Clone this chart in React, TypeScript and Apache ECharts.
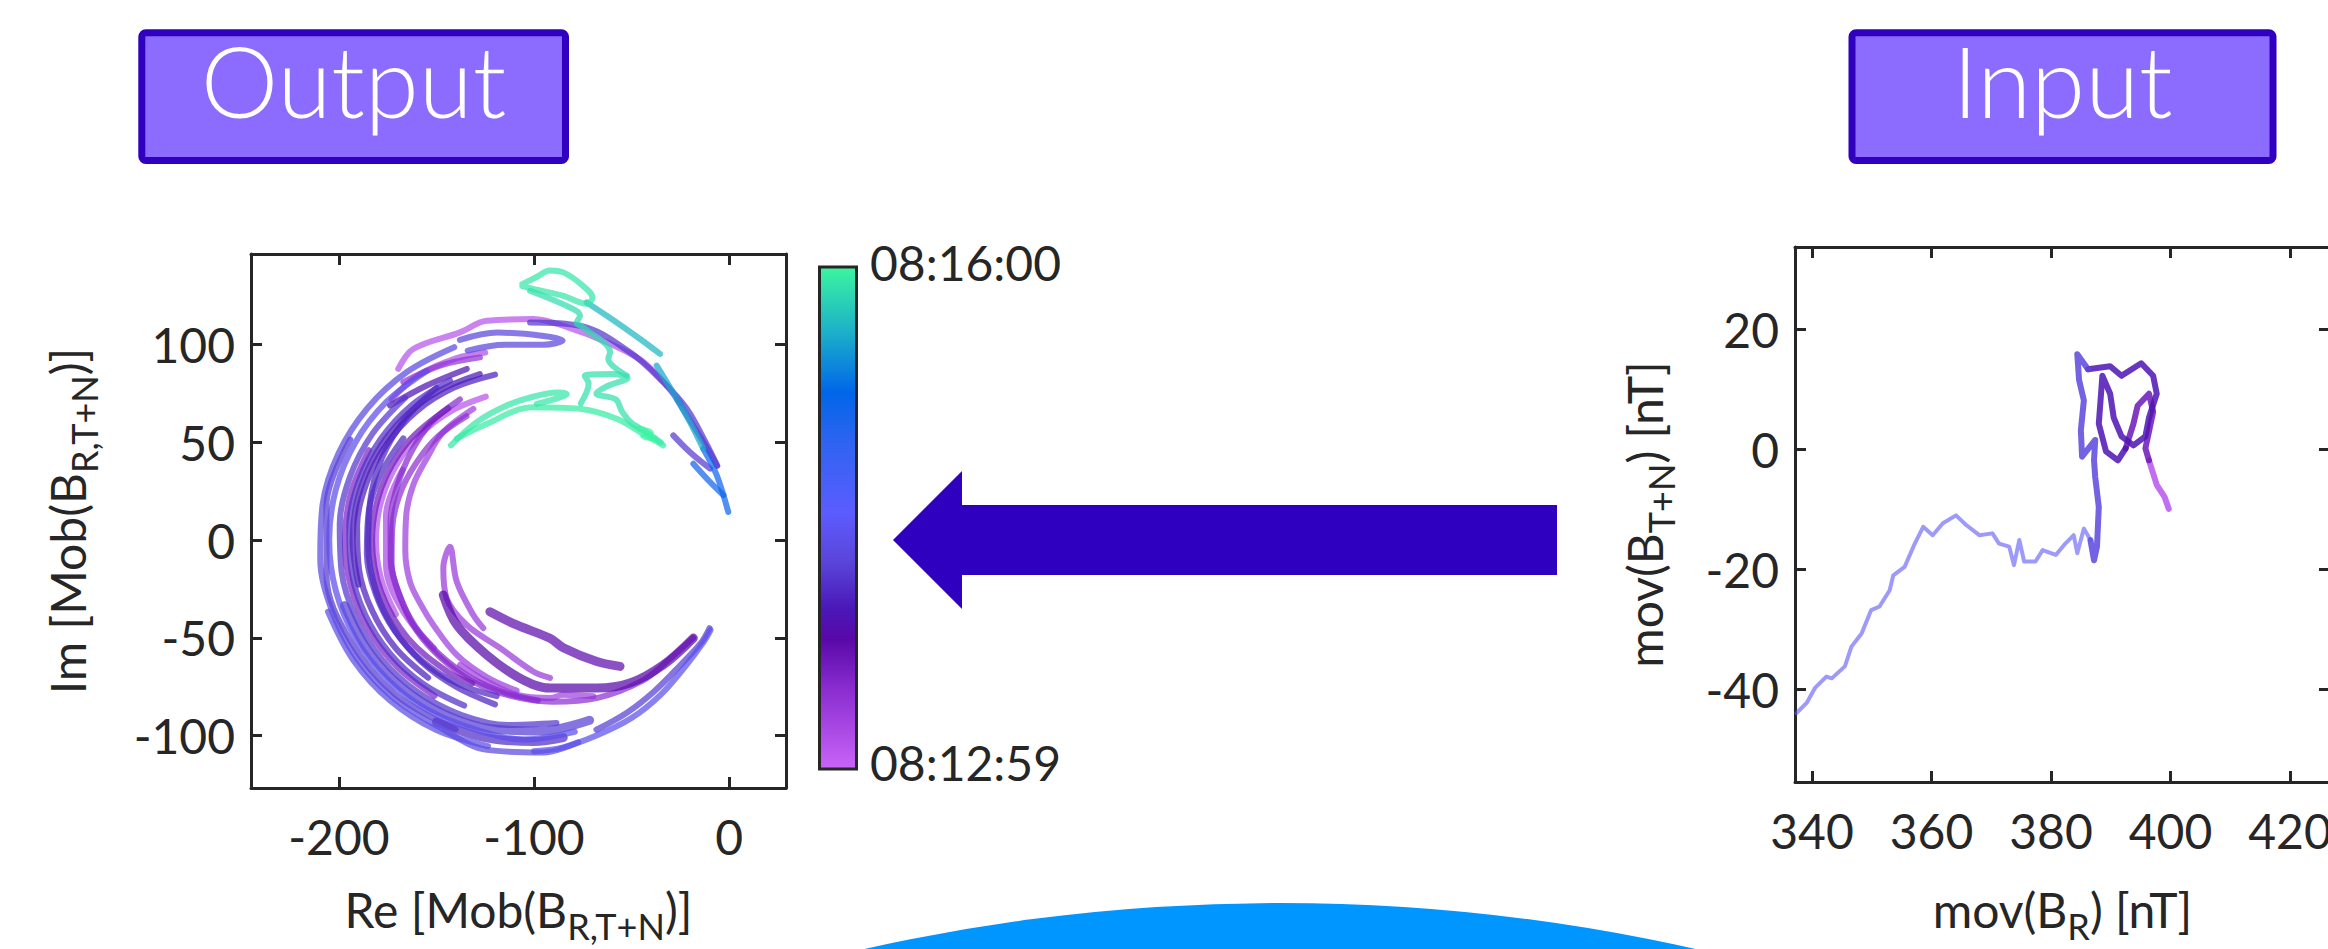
import React, { useEffect, useRef } from 'react';
import * as echarts from 'echarts';

// ---------- time scale (seconds after 08:12:59) ----------
const timeRange = [0, 181];
const colorbarLabels = ['08:16:00', '08:12:59'];

// ---------- axes ----------
const leftXRange = [-245.1, 29.2];
const leftYRange = [-126.8, 146.4];
const rightXRange = [337.15, 426.7];
const rightYRange = [-55.5, 33.8];
const leftXTicks = [-200, -100, 0];
const leftYTicks = [-100, -50, 0, 50, 100];
const rightXTicks = [340, 360, 380, 400, 420];
const rightYTicks = [-40, -20, 0, 20];

// ---------- left panel: Mob(B) trajectory strokes (Re, Im) ----------
const outerArcA = [[-140.9,98.7],[-165.2,86],[-185.4,67.5],[-200.2,44.4],[-208.4,18.2],[-209.6,-9.2],[-203.7,-35.9],[-191,-60.2],[-172.5,-80.4],[-149.4,-95.2],[-124,-107.3],[-95.5,-108.6],[-77.3,-103.4]];
const outerArcB = [[-155,86.6],[-175.7,70.7],[-191.6,50],[-201.6,25.9],[-205,0],[-201.6,-25.9],[-191.6,-50],[-175.7,-70.7],[-155,-86.6],[-130.9,-96.6],[-105,-102],[-79.1,-98]];
const outerArcC = [[-100,-108],[-85,-106],[-68,-100],[-50,-91],[-35,-79],[-22,-64],[-13,-52],[-9.5,-46]];
const outerArcD = [[-68,-97],[-52,-88],[-38,-77],[-25,-64],[-14,-52],[-10,-45]];
const outerArcE = [[-205.6,-36.6],[-192.6,-61.4],[-173.8,-82],[-150.3,-97],[-123.6,-105.4]];
const bottomBand = [[-150,-93],[-125,-101],[-100,-103],[-85,-101]];
const midArcA = [[-166.1,72.8],[-182.8,54.5],[-194.3,32.5],[-199.6,8.3],[-198.6,-16.5],[-191.1,-40.1],[-177.8,-61.1],[-159.5,-77.8],[-137.5,-89.3],[-113.3,-94.6],[-88.5,-93.6]];
const midArcB = [[-143,81.6],[-162.9,68.9],[-178.7,51.6],[-189.6,30.8],[-194.7,7.8],[-193.6,-15.6],[-186.6,-38],[-173.9,-57.9],[-156.6,-73.7],[-135.8,-84.6]];
const midArcC = [[-197.1,-33.5],[-185.3,-56.2],[-168,-75.1],[-146.4,-88.8],[-122,-96.5],[-96.5,-97.6],[-71.5,-92.1]];
const midArcD = [[-120,84.7],[-141.3,77.9],[-160.3,65.9],[-175.4,49.3],[-185.8,29.4],[-190.7,7.5],[-189.7,-14.9],[-182.9,-36.3],[-170.9,-55.3],[-154.3,-70.4]];
const midArcE = [[-167,52.1],[-178.4,34.2],[-184.8,14.1],[-185.7,-7.1],[-181.1,-27.7],[-171.4,-46.5],[-157.1,-62],[-139.2,-73.4],[-119.1,-79.8]];
const midArcF = [[-194.2,51.5],[-206.4,17.9],[-206.4,-17.9],[-194.2,-51.5],[-171.2,-78.9],[-140.2,-96.8]];
const midArcG = [[-127.8,85],[-149,76.2],[-167.2,62.2],[-181.2,44],[-190,22.8],[-193,0],[-190,-22.8]];
const innerArcA = [[-131.1,67.2],[-146.5,55.3],[-155,41.8],[-162,28],[-165.5,12.8],[-166,-5],[-163.6,-21.3],[-158,-33],[-151.6,-43.4],[-139.6,-58.7],[-124.3,-70],[-108.9,-77]];
const innerArcB = [[-138,72],[-153,60],[-163,45],[-170,28],[-173.5,10],[-173.5,-10],[-169,-28],[-161,-44],[-149,-58],[-133,-70],[-115,-78],[-98,-82]];
const innerArcC = [[-150,78],[-166,62],[-178,42],[-184,20],[-185,-3],[-181,-26],[-172,-45],[-158,-62],[-140,-75],[-120,-84]];
const innerArcD = [[-124.7,73.4],[-143,65.8],[-158.7,53.7],[-170.8,38],[-178.4,19.7],[-181,0],[-178.4,-19.7],[-170.8,-38]];
const innerArcE = [[-134.6,63.4],[-149.4,52.9],[-160.7,39],[-168.9,23.3],[-172.7,5.9],[-173,-12],[-168.4,-29.6],[-160.2,-46.3],[-147.4,-60.6],[-131.3,-72.4],[-112,-79.7],[-90.4,-82.7],[-67.4,-80.7],[-44.6,-72],[-31.5,-61.7],[-18.4,-50]];
const innerArcF = [[-184.7,46],[-193.9,23.8],[-197,0],[-193.9,-23.8],[-184.7,-46],[-170,-65],[-151,-79.7]];
const innerArcG = [[-144,67.5],[-164.7,50.1],[-178.3,26.7],[-183,0],[-178.3,-26.7],[-164.7,-50.1],[-144,-67.5],[-131.7,-73.3]];
const innerArcH = [[-167.4,36],[-175.9,12.5],[-175.9,-12.5],[-167.4,-36],[-151.3,-55.2]];
const lowBandA = [[-146.5,-28.1],[-139.6,-43.4],[-124.3,-58.7],[-107.2,-70.6],[-91.8,-75.7],[-67.8,-75.7],[-50.8,-73.1],[-33.7,-63.8],[-18.3,-50.1]];
const lowBandB = [[-122.6,-36.6],[-108.9,-43.4],[-91.8,-50.2],[-85,-55],[-67.8,-62.1],[-55.9,-64.6]];
const lowBandC = [[-137.9,-63.8],[-124.3,-72.3],[-108.9,-79.1],[-91.8,-80.8],[-85,-79.1],[-69.6,-79.9]];
const lowLoop = [[-126,-45],[-131.1,-38.3],[-139.6,-21.3],[-143.1,-3.4],[-146.5,-14.3],[-144.8,-29.7],[-134.5,-43.4],[-117.4,-55.2],[-100.4,-67.2],[-91.8,-70.5]];
const topBandA = [[-169.6,87.6],[-161.9,97.8],[-138,106.3],[-124.3,112.2],[-100.4,113.1],[-83,109],[-62,101],[-45,92],[-33.7,81],[-25,70]];
const topLoop = [[-138,102.5],[-118.6,106.2],[-95,104.5],[-85.3,102.1],[-95,100],[-115,100],[-134,97]];
const topBandB = [[-102,111.4],[-76.4,109.7],[-50.8,96.1],[-33.7,80.8],[-21.7,67.2],[-12,50],[-6,38]];
const topShortA = [[-167,80.8],[-148.2,89.3],[-127.7,93.5]];
const topShortB = [[-173.8,68.9],[-155,79.1],[-134.5,87.6]];
const topShortC = [[-173,72],[-160,84],[-140,93],[-125,96]];
const tipA = [[-26.8,72.3],[-18,58],[-10,45],[-6.3,38.3]];
const tipB = [[-28.6,53.6],[-20,45],[-9.7,36.6]];
const tipC = [[-18.3,39.1],[-10,30],[-2.9,23]];
const greenLoop = [[-106,131],[-98,135],[-92,138],[-85,137],[-76,131],[-70,124],[-73,121],[-85,125],[-98,128],[-106,130]];
const greenA = [[-102,127.6],[-79.8,118.2],[-76.4,114.8],[-78.1,111.4],[-74.7,108.8],[-61,96.1],[-61.9,92.7],[-52.5,84.2]];
const tealA = [[-73,121.6],[-57.6,111.4],[-45.6,102.9],[-35.4,95.3]];
const tealB = [[-37.1,89.3],[-26.8,72.3],[-20,60.4],[-13.2,46.8]];
const blueTip = [[-13.2,46.8],[-6.3,33.2],[-0.4,14.4]];
const mintA = [[-142.6,48.5],[-129.4,60.4],[-114,68.9],[-100,73.5],[-88,75.5],[-83.2,74.8],[-90,72],[-98.6,69.7]];
const mintB = [[-139.6,51.9],[-126,58.7],[-100.4,68],[-76.4,67.2],[-57.6,62.1],[-45.6,55.3],[-33.7,48.5]];
const mintSquiggle = [[-76,70],[-72,80],[-74,84],[-60,85],[-52,83],[-62,79],[-68,75],[-58,72],[-55,66],[-50,60],[-42,55],[-35,50]];
const mintBlob = [[-46,57],[-40,55],[-44,53],[-38,52]];

const leftPaths = [outerArcA, outerArcB, outerArcC, outerArcD, outerArcE, bottomBand,
  midArcA, midArcB, midArcC, midArcD, midArcE, midArcF, midArcG,
  innerArcA, innerArcB, innerArcC, innerArcD, innerArcE, innerArcF, innerArcG, innerArcH,
  lowBandA, lowBandB, lowBandC, lowLoop,
  topBandA, topLoop, topBandB, topShortA, topShortB, topShortC, tipA, tipB, tipC,
  greenLoop, greenA, tealA, tealB, blueTip, mintA, mintB, mintSquiggle, mintBlob];
const leftTimes = [78, 82, 84, 72, 80, 66,
  69, 66, 72, 60, 64, 70, 58,
  20, 30, 62, 9, 27, 33, 38, 14,
  47, 45, 18, 22,
  9, 76, 69, 25, 55, 12, 72, 70, 128,
  176, 172, 160, 155, 130, 176, 178, 174, 181];
// strokes drawn with the thick, dense texture of the reference
const leftThick = [lowBandA, lowBandB, bottomBand, midArcC];

// ---------- right panel: mov(B_R), mov(B_T+N) ----------
const rightPathA = [[337.4,-44],[339.1,-42.3],[340.5,-39.8],[342.4,-37.9],[343.3,-38.2],[345.5,-36.2],[346.6,-32.9],[348.3,-30.7],[349.9,-26.8],[351.3,-26.2],[353,-23.5],[353.6,-21],[355.5,-19.6],[357.2,-15.7],[358.6,-12.9],[360.2,-14.3],[361.9,-12.3],[364.1,-11],[365.8,-12.6],[368,-14.3],[370.2,-14],[371.3,-15.7],[373,-16.2],[373.8,-19.3],[374.7,-15.1],[375.5,-18.7],[377.4,-18.7],[378.6,-16.8],[380.8,-17.6],[382.4,-15.7],[383.8,-14.3],[384.4,-17.3],[385.5,-13.2],[386.6,-15.1]];
const rightPathB = [[386.6,-15.1],[387.2,-18.5],[387.7,-16.2],[388,-9.6],[387.4,-4.6],[387.2,-1.8],[387.4,1.6],[385.2,-1.2],[385,3.2],[385.5,8.2],[384.7,11.6],[384.4,15.9],[386.2,13.4]];
const rightPathC = [[386.2,13.4],[389.9,13.9],[391.8,12.3],[395.1,14.4],[397.1,12.3],[397.7,9.3],[396.4,5.3],[395.8,2.2],[393.8,0.7],[391.8,2.2],[390.5,5.3],[389.9,9.3],[388.6,12.3],[388,4.3],[389.2,-0.3],[391.2,-1.8],[392.5,0.2]];
const rightPathD = [[392.5,0.2],[393.8,4.3],[394.5,7.3],[396.4,9.3],[397.1,6.3],[395.8,0.2],[396.4,-1.8]];
const rightPathE = [[396.4,-1.8],[397.7,-5.9],[399,-7.9],[399.7,-9.9]];
const rightPaths = [rightPathA, rightPathB, rightPathC, rightPathD, rightPathE];
const rightTimes = [88, 76, 55, 40, 8];

// ---------- colour map (bottom → top of colour bar) ----------
const cmapStops: [number, string][] = [
  [0, '#C864F8'], [0.16, '#8A2CD0'], [0.26, '#5808A8'], [0.32, '#4A18B8'], [0.41, '#5A44D8'],
  [0.51, '#5C5CFF'], [0.65, '#2E64F0'], [0.75, '#0066E8'], [0.87, '#1CB0C8'], [1, '#3CF5A0'],
];

function hexRgb(h: string) {
  return [parseInt(h.slice(1, 3), 16), parseInt(h.slice(3, 5), 16), parseInt(h.slice(5, 7), 16)];
}
function colorAt(t: number) {
  const f = Math.max(0, Math.min(1, (t - timeRange[0]) / (timeRange[1] - timeRange[0])));
  for (let i = 0; i < cmapStops.length - 1; i++) {
    const [o0, c0] = cmapStops[i];
    const [o1, c1] = cmapStops[i + 1];
    if (f >= o0 && f <= o1) {
      const k = (f - o0) / (o1 - o0 || 1);
      const a = hexRgb(c0), b = hexRgb(c1);
      const r = a.map((v, j) => Math.round(v + (b[j] - v) * k));
      return `rgb(${r[0]},${r[1]},${r[2]})`;
    }
  }
  return cmapStops[cmapStops.length - 1][1];
}

const FONT = 'Lato, "Open Sans", "Liberation Sans", sans-serif';
const INK = '#262626';

function tickFormatter(ticks: number[]) {
  return (v: number) => {
    const r = Math.round(v);
    return Math.abs(v - r) < 1e-6 && ticks.includes(r) ? String(r) : '';
  };
}

const nameStyle = {
  fontFamily: FONT,
  color: INK,
  fontSize: 48,
  rich: {
    n: { fontFamily: FONT, color: INK, fontSize: 48, lineHeight: 70 },
    s: { fontFamily: FONT, color: INK, fontSize: 36, lineHeight: 36, verticalAlign: 'bottom' },
  },
};

const lineCommon = {
  axisLine: { show: true, onZero: false, lineStyle: { color: INK, width: 3 } },
  axisTick: { show: true, inside: true, length: 11, lineStyle: { color: INK, width: 3 } },
  splitLine: { show: false },
};

function mainAxis(gridIndex: number, range: number[], ticks: number[], position: string, extra: any) {
  return {
    type: 'value', gridIndex, min: range[0], max: range[1], position, scale: true,
    ...lineCommon,
    axisLabel: { show: true, formatter: tickFormatter(ticks), fontSize: 48, fontFamily: FONT, color: INK, margin: position === 'left' ? 16 : 24 },
    nameLocation: 'middle', nameTextStyle: nameStyle, nameMoveOverlap: false,
    ...extra,
  };
}
function mirrorAxis(gridIndex: number, range: number[], position: string, extra: any) {
  return {
    type: 'value', gridIndex, min: range[0], max: range[1], position, scale: true,
    ...lineCommon,
    axisLabel: { show: false },
    ...extra,
  };
}

function buildSeries(paths: number[][][], times: number[], xi: number, yi: number, width: (i: number) => number, opacity: (i: number) => number, smooth: (i: number) => number | boolean) {
  const order = paths.map((_, i) => i).sort((a, b) => times[a] - times[b]);
  return order.map((i) => ({
    type: 'line',
    xAxisIndex: xi,
    yAxisIndex: yi,
    data: paths[i],
    smooth: smooth(i),
    symbol: 'none',
    showSymbol: false,
    silent: true,
    clip: true,
    lineStyle: { color: colorAt(times[i]), width: width(i), opacity: opacity(i), cap: 'round', join: 'round' },
  }));
}

export default function App() {
  const ref = useRef<HTMLDivElement>(null);
  useEffect(() => {
    if (!ref.current) return;
    const chart = echarts.init(ref.current, null, { renderer: 'svg' });
    const gradient = new echarts.graphic.LinearGradient(0, 1, 0, 0,
      cmapStops.map(([offset, color]) => ({ offset, color })));
    const option: any = {
      animation: false,
      backgroundColor: '#ffffff',
      textStyle: { fontFamily: FONT },
      grid: [
        { left: 251, top: 254, width: 535, height: 534, containLabel: false, outerBoundsMode: 'none' },
        { left: 1795, top: 247, width: 535, height: 535, containLabel: false, outerBoundsMode: 'none' },
      ],
      xAxis: [
        mainAxis(0, leftXRange, leftXTicks, 'bottom', { splitNumber: 3, name: '{n|Re [Mob(B}{s|R,T+N}{n|)]}', nameGap: 86 }),
        mirrorAxis(0, leftXRange, 'top', { splitNumber: 3 }),
        mainAxis(1, rightXRange, rightXTicks, 'bottom', { splitNumber: 5, name: '{n|mov(B}{s|R}{n|) [nT]}', nameGap: 92 }),
        mirrorAxis(1, rightXRange, 'top', { splitNumber: 5 }),
      ],
      yAxis: [
        mainAxis(0, leftYRange, leftYTicks, 'left', { splitNumber: 5, name: '{n|Im [Mob(B}{s|R,T+N}{n|)]}', nameGap: 149 }),
        mirrorAxis(0, leftYRange, 'right', { splitNumber: 5 }),
        mainAxis(1, rightYRange, rightYTicks, 'left', { splitNumber: 5, name: '{n|mov(B}{s|T+N}{n|) [nT]}', nameGap: 116 }),
        mirrorAxis(1, rightYRange, 'right', { splitNumber: 5 }),
      ],
      series: [
        ...buildSeries(leftPaths, leftTimes, 0, 0, (i) => (leftThick.includes(leftPaths[i]) ? 9 : 6), () => 0.72, () => 0.35),
        ...buildSeries(rightPaths, rightTimes, 2, 2, (i) => (i === 0 ? 4 : 6), (i) => (i === 0 ? 0.6 : 0.85), () => false),
      ],
      graphic: [
        { type: 'circle', silent: true, z: 0, shape: { cx: 1280, cy: 2798, r: 1895 }, style: { fill: '#0096FF' } },
        { type: 'rect', silent: true, shape: { x: 141.8, y: 32.8, width: 423.7, height: 127.7, r: 4 }, style: { fill: '#8C6BFF', stroke: '#3000C0', lineWidth: 7 } },
        { type: 'text', silent: true, x: 353.5, y: 80.3, style: { text: 'Output', fill: '#ffffff', fontSize: 98, fontWeight: 300, fontFamily: FONT, align: 'center', verticalAlign: 'middle', textAlign: 'center', textVerticalAlign: 'middle' } },
        { type: 'rect', silent: true, shape: { x: 1852, y: 32.8, width: 421, height: 127.7, r: 4 }, style: { fill: '#8C6BFF', stroke: '#3000C0', lineWidth: 7 } },
        { type: 'text', silent: true, x: 2062.5, y: 80.3, style: { text: 'Input', fill: '#ffffff', fontSize: 98, fontWeight: 300, fontFamily: FONT, align: 'center', verticalAlign: 'middle', textAlign: 'center', textVerticalAlign: 'middle' } },
        { type: 'polygon', silent: true, shape: { points: [[893, 540], [962, 471], [962, 505], [1557, 505], [1557, 575], [962, 575], [962, 609]] }, style: { fill: '#3000C0' } },
        { type: 'rect', silent: true, shape: { x: 819.5, y: 267, width: 37, height: 502 }, style: { fill: gradient, stroke: INK, lineWidth: 3 } },
        { type: 'text', silent: true, x: 870, y: 262.4, style: { text: colorbarLabels[0], fill: INK, fontSize: 48, fontFamily: FONT, align: 'left', verticalAlign: 'middle', textAlign: 'left', textVerticalAlign: 'middle' } },
        { type: 'text', silent: true, x: 870, y: 762.4, style: { text: colorbarLabels[1], fill: INK, fontSize: 48, fontFamily: FONT, align: 'left', verticalAlign: 'middle', textAlign: 'left', textVerticalAlign: 'middle' } },
      ],
    };
    chart.setOption(option);
    return () => chart.dispose();
  }, []);
  return <div ref={ref} style={{ position: 'absolute', left: 0, top: 0, width: 2328, height: 949, background: '#ffffff' }} />;
}
